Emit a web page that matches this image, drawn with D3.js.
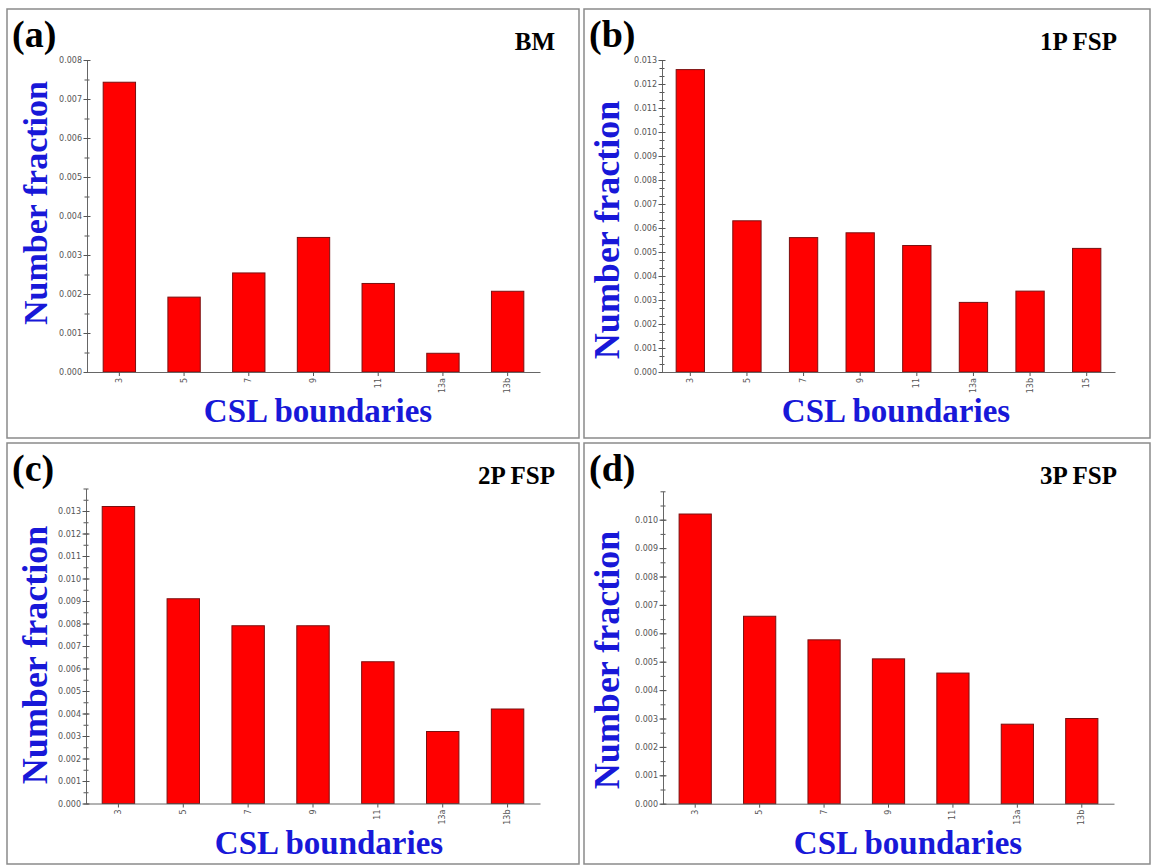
<!DOCTYPE html>
<html>
<head>
<meta charset="utf-8">
<script src="https://cdn.jsdelivr.net/npm/d3@7"></script>
<style>
  body { margin: 0; background: #fff; }
  svg { display: block; }
</style>
</head>
<body>
<div id="chart"></div>
<script>
// csl boundary categories
let catsA = ["3", "5", "7", "9", "11", "13a", "13b"];
let catsB = ["3", "5", "7", "9", "11", "13a", "13b", "15"];

// number fraction
let bmVals  = [0.00743, 0.00192, 0.00254, 0.00345, 0.00227, 0.00048, 0.00207];
let p1Vals  = [0.0126, 0.0063, 0.0056, 0.0058, 0.00527, 0.0029, 0.00337, 0.00515];
let p2Vals  = [0.0132, 0.0091, 0.0079, 0.0079, 0.0063, 0.0032, 0.0042];
let p3Vals  = [0.0102, 0.0066, 0.00577, 0.0051, 0.0046, 0.0028, 0.0030];

let panelTags  = ["(a)", "(b)", "(c)", "(d)"];
let panelNames = ["BM", "1P FSP", "2P FSP", "3P FSP"];
let yMax       = [0.008, 0.013, 0.014, 0.011];
let yLabelMax  = [0.008, 0.013, 0.013, 0.010];
let minorStep  = [0.0005, 0.001/3, 0.0005, 0.0005];

let W = 1154, H = 865;
let svg = d3.select("#chart").append("svg").attr("width", W).attr("height", H);

// frame, axis box and text spots for each panel
let panels = [
  {fx: 7,   fy: 9,   fw: 572, fh: 429, ax: 87,  ax2: 540,  ay0: 372,   ay1: 60,    nfx: 36,  nfy: 203, nfs: 34, cx: 318},
  {fx: 584, fy: 9,   fw: 566, fh: 429, ax: 662, ax2: 1115, ay0: 372,   ay1: 60,    nfx: 608, nfy: 230, nfs: 36, cx: 896},
  {fx: 7,   fy: 443, fw: 572, fh: 421, ax: 86,  ax2: 540,  ay0: 803.5, ay1: 488.5, nfx: 36,  nfy: 655, nfs: 36, cx: 329},
  {fx: 584, fy: 443, fw: 566, fh: 421, ax: 663, ax2: 1114, ay0: 803.7, ay1: 491.3, nfx: 608, nfy: 660, nfs: 36, cx: 908}
];
let panelCats = [catsA, catsB, catsA, catsA];
let panelVals = [bmVals, p1Vals, p2Vals, p3Vals];

let blue = "#1818d8";

panels.forEach(function(p, i) {
  let g = svg.append("g");
  let cats = panelCats[i], vals = panelVals[i];

  g.append("rect")
    .attr("x", p.fx).attr("y", p.fy).attr("width", p.fw).attr("height", p.fh)
    .attr("fill", "none").attr("stroke", "#8a8a8a").attr("stroke-width", 1.5);

  let x = d3.scaleBand().domain(cats).range([p.ax, p.ax2]).paddingInner(0.5).paddingOuter(0.25);
  let y = d3.scaleLinear().domain([0, yMax[i]]).range([p.ay0, p.ay1]);

  // bars
  g.selectAll("rect.bar").data(vals).enter().append("rect")
    .attr("class", "bar")
    .attr("x", (d, j) => x(cats[j]))
    .attr("width", x.bandwidth())
    .attr("y", d => y(d))
    .attr("height", d => y(0) - y(d))
    .attr("fill", "#ff0000")
    .attr("stroke", "#7a1010")
    .attr("stroke-width", 1);

  // minor ticks on y
  let minor = d3.range(0, yMax[i] + 1e-9, minorStep[i]);
  let gm = g.append("g").attr("transform", "translate(" + p.ax + ",0)")
    .call(d3.axisLeft(y).tickValues(minor).tickSize(2.5).tickFormat(""));
  gm.select(".domain").remove();
  gm.selectAll(".tick line").attr("x2", -2.5).attr("x1", 2.5).attr("stroke", "#555");

  // major ticks on y
  let major = d3.range(0, yLabelMax[i] + 1e-9, 0.001);
  let gy = g.append("g").attr("transform", "translate(" + p.ax + ",0)")
    .call(d3.axisLeft(y).tickValues(major).tickSize(3.5).tickSizeOuter(0).tickFormat(d3.format(".3f")));
  gy.select(".domain").attr("stroke", "#666");
  gy.selectAll(".tick line").attr("x1", 3.5).attr("stroke", "#555");
  gy.selectAll(".tick text")
    .attr("x", -5)
    .attr("fill", "#555")
    .style("font-family", "DejaVu Sans, Verdana, sans-serif")
    .style("font-size", "8px");

  // x axis
  let gx = g.append("g").attr("transform", "translate(0," + p.ay0 + ")")
    .call(d3.axisBottom(x).tickSize(4).tickSizeOuter(0));
  gx.select(".domain").attr("stroke", "#666");
  gx.selectAll(".tick line").attr("stroke", "#555");
  gx.selectAll(".tick text")
    .attr("transform", "rotate(-90)")
    .attr("x", -6).attr("y", 0).attr("dy", "0.32em")
    .attr("text-anchor", "end")
    .attr("fill", "#555")
    .style("font-family", "DejaVu Sans, Verdana, sans-serif")
    .style("font-size", "8px");

  // panel tag and name
  g.append("text")
    .attr("x", p.fx + 5).attr("y", p.fy + 38)
    .attr("font-family", "Liberation Serif, Times New Roman, serif")
    .attr("font-weight", "bold").attr("font-size", 38)
    .text(panelTags[i]);

  g.append("text")
    .attr("x", p.fx + p.fw - (i % 2 == 0 ? 24 : 33)).attr("y", p.fy + 41)
    .attr("text-anchor", "end")
    .attr("font-family", "Liberation Serif, Times New Roman, serif")
    .attr("font-weight", "bold").attr("font-size", 25)
    .text(panelNames[i]);

  // axis titles
  g.append("text")
    .attr("transform", "translate(" + (p.nfx + 11) + "," + p.nfy + ") rotate(-90)")
    .attr("text-anchor", "middle")
    .attr("fill", blue)
    .attr("font-family", "Liberation Serif, Times New Roman, serif")
    .attr("font-weight", "bold").attr("font-size", p.nfs)
    .text("Number fraction");

  g.append("text")
    .attr("x", p.cx).attr("y", p.ay0 + 50)
    .attr("text-anchor", "middle")
    .attr("fill", blue)
    .attr("font-family", "Liberation Serif, Times New Roman, serif")
    .attr("font-weight", "bold").attr("font-size", 33)
    .text("CSL boundaries");
});
</script>
</body>
</html>
